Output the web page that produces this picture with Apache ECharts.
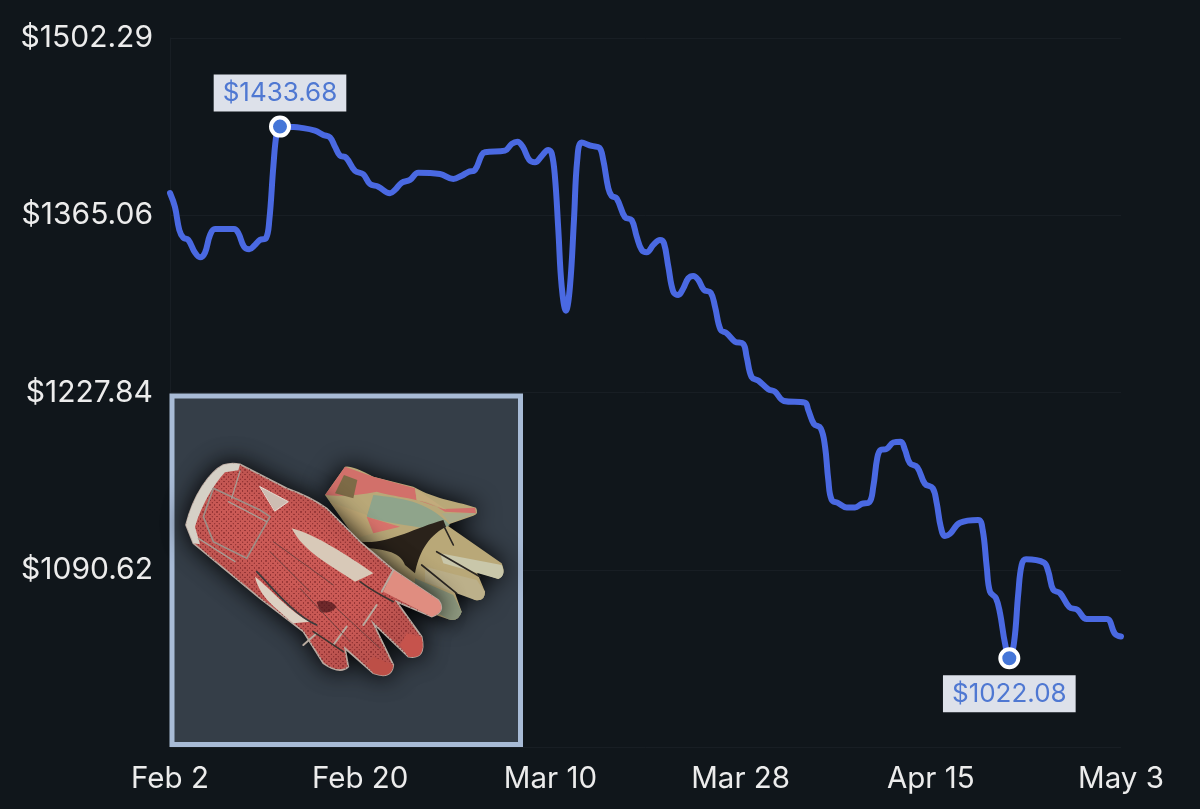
<!DOCTYPE html>
<html>
<head>
<meta charset="utf-8">
<title>Price history</title>
<style>
    html, body { margin: 0; padding: 0; background: #10161b; }
    #chart { width: 1200px; height: 809px; }
</style>
<script src="https://cdn.jsdelivr.net/npm/echarts@6/dist/echarts.min.js"></script>
</head>
<body>
<div id="chart"></div>
<script>
// days since Feb 2
const days = [
    0, 0.47, 0.88, 1.26, 1.73, 2.37, 2.84, 3.31, 3.79, 4.26, 6.06, 6.46, 7.0, 7.5, 8.04, 8.52, 9.08, 9.4, 9.78, 10.1,
    10.41, 11.52, 12.3, 13.72, 14.51, 15.14, 15.61, 16.09, 16.66, 17.51, 18.29, 18.93, 19.71, 20.82, 21.29, 21.93, 22.71, 23.5, 25.55, 26.81,
    27.6, 28.23, 28.86, 29.5, 29.81, 31.7, 32.34, 32.87, 33.38, 34.0, 34.54, 35.18, 35.8, 36.12, 36.43, 36.75, 37.07, 37.47, 37.85, 38.23,
    38.54, 38.96, 39.91, 40.63, 41.0, 41.48, 41.8, 42.27, 43.06, 43.69, 44.17, 44.64, 45.11, 45.74, 46.37, 46.75, 47.16, 47.63, 48.1, 48.58,
    49.05, 49.52, 50.0, 50.53, 51.17, 51.58, 52.11, 52.68, 53.47, 54.25, 54.57, 55.05, 55.67, 56.62, 57.25, 58.1, 60.09, 60.4, 60.94, 61.58,
    61.99, 62.3, 62.62, 63.24, 64.04, 64.82, 65.46, 66.18, 66.56, 66.93, 67.25, 67.82, 68.45, 69.15, 69.56, 70.03, 70.72, 71.45, 72.18, 72.56,
    72.94, 73.34, 73.81, 74.76, 76.49, 76.91, 77.29, 77.6, 78.17, 78.55, 79.02, 79.43, 79.87, 80.28, 80.6, 81.01, 82.71, 83.12, 83.59, 84.23,
    85.11, 85.87, 86.76, 88.65, 89.43, 90
];
const prices = [
    1382.3, 1371.5, 1353.7, 1347.7, 1346.0, 1336.1, 1332.6, 1336.1, 1349.8, 1354.5, 1354.5, 1351.4, 1340.8, 1338.8, 1342.1, 1346.0, 1347.3, 1361.4, 1402.7, 1428.8,
    1433.68, 1433.4, 1432.9, 1430.6, 1427.2, 1425.4, 1418.2, 1411.2, 1409.7, 1399.4, 1396.8, 1389.3, 1387.2, 1382.1, 1384.7, 1390.3, 1392.4, 1398.0, 1397.0, 1393.2,
    1395.7, 1398.6, 1400.1, 1411.7, 1413.8, 1415.1, 1420.3, 1422.0, 1418.2, 1407.9, 1406.1, 1411.0, 1415.6, 1413.1, 1394.9, 1353.7, 1309.8, 1291.2, 1309.8, 1361.4,
    1407.9, 1421.3, 1418.7, 1417.4, 1407.9, 1386.0, 1380.0, 1378.2, 1363.5, 1361.4, 1348.5, 1338.2, 1336.4, 1342.1, 1346.0, 1343.4, 1325.3, 1305.9, 1303.4, 1308.6,
    1316.3, 1318.1, 1315.0, 1307.3, 1305.2, 1294.3, 1276.3, 1273.7, 1267.2, 1265.5, 1255.6, 1239.7, 1237.1, 1230.4, 1228.5, 1221.3, 1220.0, 1214.4, 1203.5, 1200.2,
    1186.0, 1160.2, 1144.7, 1142.2, 1138.8, 1138.8, 1141.6, 1142.9, 1155.0, 1177.0, 1183.4, 1184.2, 1189.1, 1189.8, 1183.4, 1173.1, 1170.0, 1157.1, 1153.8, 1142.2,
    1124.0, 1116.8, 1118.4, 1127.1, 1129.2, 1121.5, 1093.1, 1073.7, 1068.6, 1057.0, 1033.8, 1022.08, 1033.8, 1072.5, 1094.4, 1098.8, 1096.2, 1089.2, 1075.1, 1072.5,
    1061.7, 1059.6, 1052.4, 1052.4, 1041.0, 1038.9
];
const xTickLabels = ['Feb 2', 'Feb 20', 'Mar 10', 'Mar 28', 'Apr 15', 'May 3'];
const yTickValues = [953.4, 1090.62, 1227.84, 1365.06, 1502.29];
const yLabelValues = [1090.62, 1227.84, 1365.06, 1502.29];

const peakPoint = [10.41, 1433.68];
const lowPoint = [79.43, 1022.08];

const lineColor = '#4a69e2';
const gridColor = '#181e24';
const textColor = '#ececec';

// 手套花纹
function makeDots() {
    const c = document.createElement('canvas');
    c.width = 14;
    c.height = 14;
    const ctx = c.getContext('2d');
    ctx.fillStyle = 'rgba(110,25,30,0.55)';
    [[3, 3], [10, 10]].forEach(function (p) {
        ctx.beginPath();
        ctx.arc(p[0], p[1], 2.4, 0, Math.PI * 2);
        ctx.fill();
    });
    return c;
}

// the graphic component has no plain path type, so register each outline
let shapeCount = 0;
function pathShape(pathData, style) {
    const name = 'glovePart' + (shapeCount++);
    echarts.graphic.registerShape(name, echarts.graphic.extendPath(pathData, {}));
    return { type: name, z: 11, style: style };
}

function seam(pathData, color, width) {
    return pathShape(pathData, { fill: null, stroke: color, lineWidth: width, lineCap: 'round', lineJoin: 'round' });
}

function patch(pathData, color) {
    return pathShape(pathData, { fill: color });
}

const backGlove = 'M495,330 L555,245 Q575,240 640,275 L760,305 C830,345 900,350 948,368 Q958,385 940,392 L860,420 L1025,535 Q1040,570 1015,582 L950,560 L975,620 Q975,650 945,645 L880,610 L905,680 Q895,712 865,703 L740,660 L600,480 Z';
const frontGlove = 'M78,420 C100,330 150,260 190,240 Q215,232 240,238 L380,310 Q450,335 500,370 L600,470 L700,555 L835,645 Q860,680 815,695 L710,650 L785,755 Q800,825 745,815 L640,715 L700,840 Q695,885 640,865 L555,790 L565,845 Q540,870 490,835 L430,740 L300,640 L100,475 Z';

const gloveShapes = [
    pathShape(backGlove, { fill: '#b9a878', shadowBlur: 24, shadowColor: '#000' }),
    patch('M495,330 L555,245 L640,275 L765,310 L770,345 L850,372 L945,368 L948,385 L855,380 C800,340 720,340 650,320 C600,330 540,335 495,330 Z', '#d2706a'),
    patch('M525,325 L552,270 L592,285 L580,340 Z', '#7d6b47'),
    patch('M640,330 C720,340 800,345 870,420 L830,440 C770,420 700,420 620,395 Z', '#8fa48b'),
    patch('M765,310 L860,375 L800,350 L770,345 Z', '#c3ab7c'),
    patch('M845,385 L948,385 L870,415 Z', '#a8aa8a'),
    patch('M600,470 C680,480 760,430 850,405 L858,425 C800,455 775,510 765,565 L735,540 C720,495 660,495 612,487 Z', '#2a221a'),
    patch('M840,505 L1025,540 Q1040,570 1015,582 L850,535 Z', '#c9c7aa'),
    patch('M795,545 L950,585 L975,620 Q975,650 945,645 L795,590 Z', '#bcb08a'),
    patch('M765,580 L880,630 L905,680 Q895,712 865,703 L765,645 Z', '#8f9a80'),
    patch('M510,350 L620,390 L640,445 L590,460 Z', '#c2ab78'),
    patch('M620,395 L720,425 L640,445 Z', '#d9736c'),
    seam('M830,500 L960,575 M785,540 L890,625 M850,420 L880,480', '#2b2723', 5),
    pathShape(frontGlove, { fill: '#cb5a56', stroke: '#b9a9a0', lineWidth: 5, shadowBlur: 24, shadowColor: '#000' }),
    pathShape(frontGlove, { fill: { image: makeDots(), repeat: 'repeat' } }),
    patch('M78,420 C100,330 150,260 190,240 Q215,232 240,238 L235,256 L195,262 C160,300 125,360 105,425 L120,478 L100,475 Z', '#d5d0c6'),
    patch('M300,305 L385,350 L345,378 Z', '#cdbdb2'),
    patch('M395,430 C470,450 560,510 640,565 L585,590 C510,540 430,500 395,430 Z', '#d8c9b8'),
    patch('M285,575 C330,610 390,680 450,710 L400,715 C350,670 300,640 285,575 Z', '#dcd0c2'),
    patch('M700,555 L835,645 Q860,680 815,695 L670,620 Z', '#e08d80'),
    patch('M740,745 L785,755 Q800,825 745,815 L720,780 Z', '#c6534c'),
    patch('M640,815 L700,840 Q695,885 640,865 L620,840 Z', '#bd4f47'),
    patch('M470,650 Q510,640 530,665 Q510,690 480,680 Z', 'rgba(70,20,25,0.7)'),
    seam('M300,305 L385,350 L345,378 Z', '#e5ddd3', 3),
    seam('M130,395 L160,310 L300,375 L330,395 L260,520 L160,470 Z', '#9d8f88', 5),
    seam('M240,258 L215,340 M115,460 L225,530 M205,350 L320,410', '#a89c94', 4),
    seam('M290,560 C330,600 400,690 470,720', '#3a3a3c', 5),
    seam('M700,555 L665,620 M650,660 L610,720 M560,725 L520,780 M470,745 L430,780', '#b8aba0', 6),
    seam('M530,670 L660,790 M420,610 L570,770 M340,470 L520,600 M330,500 L450,620', '#70403f', 3),
    seam('M600,590 C640,620 680,640 700,650 M460,740 L550,800', '#3b3330', 5)
];

document.addEventListener('DOMContentLoaded', function () {
    const chart = echarts.init(document.getElementById('chart'), null, { renderer: 'canvas' });

    function pointLabel(position, distance) {
        return {
            show: true,
            position: position,
            distance: distance,
            formatter: function (p) {
                return '$' + p.value;
            },
            color: '#4f78d2',
            fontFamily: 'Inter',
            fontSize: 26,
            backgroundColor: '#dde1ea',
            padding: [6, 9, 5, 9]
        };
    }

    const option = {
        backgroundColor: '#10161b',
        animation: false,
        grid: { left: 170, right: 79, top: 38, bottom: 62 },
        xAxis: {
            type: 'value',
            min: 0,
            max: 90,
            interval: 18,
            axisLine: { show: false },
            axisTick: { show: false },
            splitLine: { show: false },
            axisLabel: {
                color: textColor,
                fontFamily: 'Inter',
                fontSize: 29.5,
                margin: 17,
                formatter: function (v) {
                    return xTickLabels[v / 18];
                }
            }
        },
        yAxis: {
            type: 'value',
            min: 953.4,
            max: 1502.29,
            axisLine: { show: true, lineStyle: { color: gridColor, width: 1 } },
            axisTick: { show: false, customValues: yTickValues },
            splitLine: { show: true, lineStyle: { color: gridColor, width: 1 } },
            axisLabel: {
                customValues: yLabelValues,
                color: textColor,
                fontFamily: 'Inter',
                fontSize: 30,
                margin: 17,
                verticalAlign: 'middle',
                padding: [0, 0, 4, 0],
                formatter: function (v) {
                    return '$' + v.toFixed(2);
                }
            }
        },
        series: [
            {
                type: 'line',
                data: days.map(function (d, i) { return [d, prices[i]]; }),
                showSymbol: false,
                smooth: 0.4,
                lineStyle: { color: lineColor, width: 6, cap: 'round', join: 'round' },
                markPoint: {
                    symbol: 'circle',
                    symbolSize: 18,
                    itemStyle: { color: '#4576d8', borderColor: '#ffffff', borderWidth: 4 },
                    data: [
                        { coord: peakPoint, value: peakPoint[1].toFixed(2), label: pointLabel('top', 4) },
                        { coord: lowPoint, value: lowPoint[1].toFixed(2), label: pointLabel('bottom', 6) }
                    ]
                }
            }
        ],
        graphic: [
            {
                type: 'rect',
                z: 10,
                shape: { x: 172, y: 396, width: 348.5, height: 348.5 },
                style: { fill: '#353e48', stroke: '#a8bbd6', lineWidth: 5 }
            },
            {
                type: 'group',
                z: 11,
                x: 160,
                y: 385,
                scaleX: 1 / 3,
                scaleY: 1 / 3,
                children: gloveShapes
            }
        ]
    };

    chart.setOption(option);

    window.addEventListener('resize', function () {
        chart.resize();
    });
});
</script>
</body>
</html>
